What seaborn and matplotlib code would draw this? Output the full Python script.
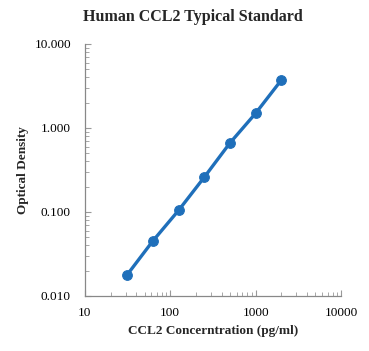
import matplotlib
matplotlib.use("Agg")
import matplotlib.pyplot as plt
import matplotlib.ticker as mticker
import pandas as pd
import seaborn as sns

# standard curve values
concentration = [31.25, 62.5, 125, 250, 500, 1000, 2000]
optical_density = [0.0178, 0.045, 0.104, 0.258, 0.66, 1.49, 3.7]

df = pd.DataFrame({"conc": concentration, "od": optical_density})

sns.set_style("white")
plt.rcParams["font.family"] = ["Liberation Serif", "DejaVu Serif"]

fig = plt.figure(figsize=(3.69, 3.51), dpi=100)
ax = fig.add_axes([0.230, 0.157, 0.694, 0.718])

sns.lineplot(data=df, x="conc", y="od", ax=ax, color="#1F6FBA",
             linewidth=2.4, marker="o", markersize=7,
             markeredgecolor="#1F6FBA", markerfacecolor="#1F6FBA")

ax.set_xscale("log")
ax.set_yscale("log")
ax.set_xlim(10, 10000)
ax.set_ylim(0.01, 10)

ax.yaxis.set_major_formatter(mticker.FuncFormatter(lambda v, p: f"{v:.3f}"))
ax.xaxis.set_major_formatter(mticker.FuncFormatter(lambda v, p: f"{v:.0f}"))
ax.xaxis.set_minor_locator(mticker.LogLocator(base=10, subs=range(2, 10)))
ax.yaxis.set_minor_locator(mticker.LogLocator(base=10, subs=range(2, 10)))
ax.xaxis.set_minor_formatter(mticker.NullFormatter())
ax.yaxis.set_minor_formatter(mticker.NullFormatter())

ax.tick_params(which="both", bottom=True, left=True, direction="in",
               color="#999999", labelsize=9.5, labelcolor="black")
ax.tick_params(which="major", length=4, width=0.8)
ax.tick_params(which="minor", length=3, width=0.6)
ax.tick_params(axis="x", pad=8)
ax.tick_params(axis="y", pad=10)

for side in ["top", "right"]:
    ax.spines[side].set_visible(False)
for side in ["left", "bottom"]:
    ax.spines[side].set_color("#888888")
    ax.spines[side].set_linewidth(0.9)

ax.set_xlabel("CCL2 Concerntration (pg/ml)", fontsize=9.5, fontweight="bold", labelpad=4)
ax.set_ylabel("Optical Density", fontsize=9.5, fontweight="bold", labelpad=4)
fig.text(0.523, 0.952, "Human CCL2 Typical Standard", fontsize=11.5,
         fontweight="bold", ha="center", va="center")

fig.savefig("out.png", dpi=100)
